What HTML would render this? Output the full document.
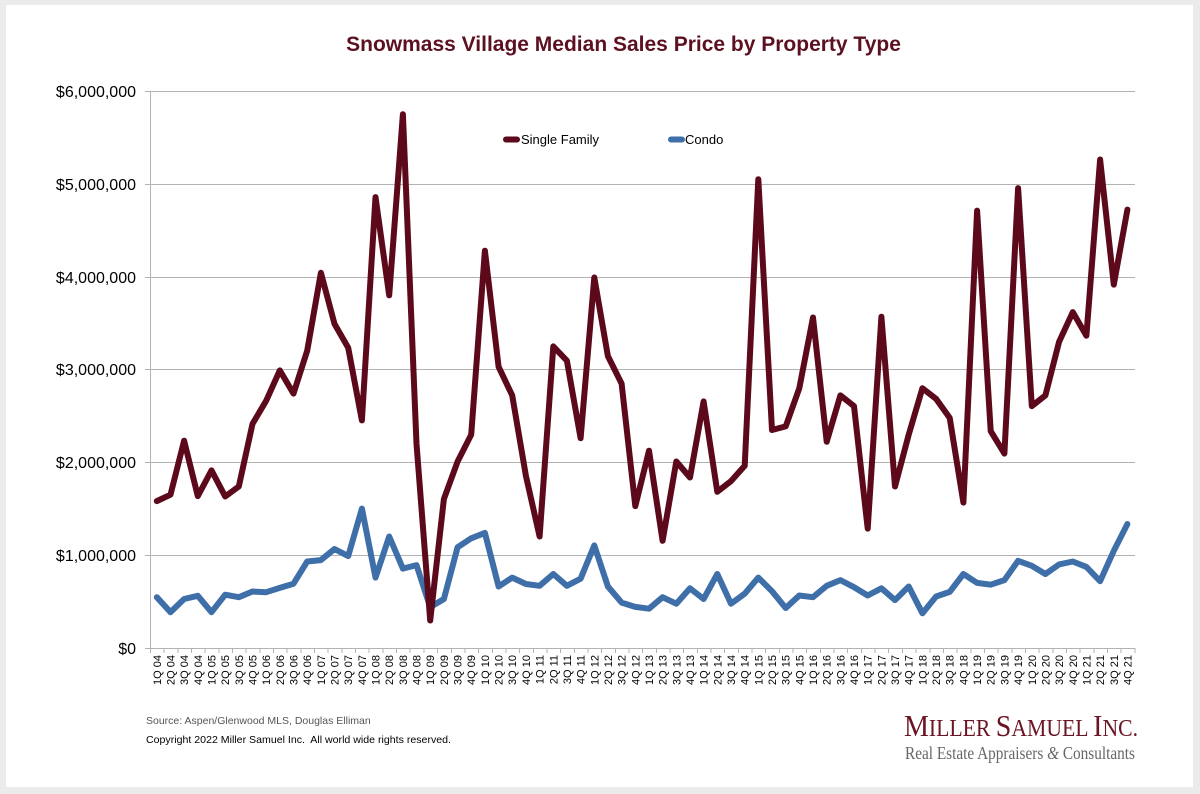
<!DOCTYPE html>
<html><head><meta charset="utf-8"><style>
html,body{margin:0;padding:0;background:#ebebeb;}
svg{display:block;}
text{font-family:"Liberation Sans",Arial,sans-serif;}
</style></head><body>
<svg width="1200" height="794" viewBox="0 0 1200 794" xmlns="http://www.w3.org/2000/svg">
<rect x="0" y="0" width="1200" height="794" fill="#ebebeb"/>
<rect x="6" y="5" width="1187" height="782" fill="#ffffff"/>
<text x="623.5" y="51" text-anchor="middle" font-size="21" font-weight="bold" fill="#5c1020">Snowmass Village Median Sales Price by Property Type</text>
<g stroke="#b3b3b3" stroke-width="1" shape-rendering="crispEdges">
<line x1="145" y1="91.5" x2="1135" y2="91.5"/>
<line x1="145" y1="184.5" x2="1135" y2="184.5"/>
<line x1="145" y1="277.5" x2="1135" y2="277.5"/>
<line x1="145" y1="369.5" x2="1135" y2="369.5"/>
<line x1="145" y1="462.5" x2="1135" y2="462.5"/>
<line x1="145" y1="555.5" x2="1135" y2="555.5"/>
<line x1="145" y1="648.5" x2="1135" y2="648.5"/>
<line x1="150.5" y1="91" x2="150.5" y2="653"/>
</g>
<g stroke="#b3b3b3" stroke-width="1" shape-rendering="crispEdges" id="xt">
<path d="M150.5 648v5M164.2 648v5M177.8 648v5M191.5 648v5M205.2 648v5M218.8 648v5M232.5 648v5M246.2 648v5M259.9 648v5M273.5 648v5M287.2 648v5M300.9 648v5M314.5 648v5M328.2 648v5M341.9 648v5M355.6 648v5M369.2 648v5M382.9 648v5M396.6 648v5M410.2 648v5M423.9 648v5M437.6 648v5M451.3 648v5M464.9 648v5M478.6 648v5M492.3 648v5M505.9 648v5M519.6 648v5M533.3 648v5M547.0 648v5M560.6 648v5M574.3 648v5M588.0 648v5M601.6 648v5M615.3 648v5M629.0 648v5M642.7 648v5M656.3 648v5M670.0 648v5M683.7 648v5M697.3 648v5M711.0 648v5M724.7 648v5M738.4 648v5M752.0 648v5M765.7 648v5M779.4 648v5M793.0 648v5M806.7 648v5M820.4 648v5M834.1 648v5M847.7 648v5M861.4 648v5M875.1 648v5M888.7 648v5M902.4 648v5M916.1 648v5M929.8 648v5M943.4 648v5M957.1 648v5M970.8 648v5M984.4 648v5M998.1 648v5M1011.8 648v5M1025.5 648v5M1039.1 648v5M1052.8 648v5M1066.5 648v5M1080.1 648v5M1093.8 648v5M1107.5 648v5M1121.2 648v5M1134.8 648v5"/>
</g>
<g font-size="16" fill="#000" text-anchor="end">
<text x="136" y="97">$6,000,000</text>
<text x="136" y="190">$5,000,000</text>
<text x="136" y="283">$4,000,000</text>
<text x="136" y="375">$3,000,000</text>
<text x="136" y="468">$2,000,000</text>
<text x="136" y="561">$1,000,000</text>
<text x="136" y="654">$0</text>
</g>
<g font-size="11" fill="#000" text-anchor="end">
<text transform="translate(160.8,655) rotate(-90)">1Q 04</text>
<text transform="translate(174.5,655) rotate(-90)">2Q 04</text>
<text transform="translate(188.1,655) rotate(-90)">3Q 04</text>
<text transform="translate(201.8,655) rotate(-90)">4Q 04</text>
<text transform="translate(215.5,655) rotate(-90)">1Q 05</text>
<text transform="translate(229.2,655) rotate(-90)">2Q 05</text>
<text transform="translate(242.8,655) rotate(-90)">3Q 05</text>
<text transform="translate(256.5,655) rotate(-90)">4Q 05</text>
<text transform="translate(270.2,655) rotate(-90)">1Q 06</text>
<text transform="translate(283.8,655) rotate(-90)">2Q 06</text>
<text transform="translate(297.5,655) rotate(-90)">3Q 06</text>
<text transform="translate(311.2,655) rotate(-90)">4Q 06</text>
<text transform="translate(324.9,655) rotate(-90)">1Q 07</text>
<text transform="translate(338.5,655) rotate(-90)">2Q 07</text>
<text transform="translate(352.2,655) rotate(-90)">3Q 07</text>
<text transform="translate(365.9,655) rotate(-90)">4Q 07</text>
<text transform="translate(379.5,655) rotate(-90)">1Q 08</text>
<text transform="translate(393.2,655) rotate(-90)">2Q 08</text>
<text transform="translate(406.9,655) rotate(-90)">3Q 08</text>
<text transform="translate(420.5,655) rotate(-90)">4Q 08</text>
<text transform="translate(434.2,655) rotate(-90)">1Q 09</text>
<text transform="translate(447.9,655) rotate(-90)">2Q 09</text>
<text transform="translate(461.6,655) rotate(-90)">3Q 09</text>
<text transform="translate(475.2,655) rotate(-90)">4Q 09</text>
<text transform="translate(488.9,655) rotate(-90)">1Q 10</text>
<text transform="translate(502.6,655) rotate(-90)">2Q 10</text>
<text transform="translate(516.2,655) rotate(-90)">3Q 10</text>
<text transform="translate(529.9,655) rotate(-90)">4Q 10</text>
<text transform="translate(543.6,655) rotate(-90)">1Q 11</text>
<text transform="translate(557.3,655) rotate(-90)">2Q 11</text>
<text transform="translate(570.9,655) rotate(-90)">3Q 11</text>
<text transform="translate(584.6,655) rotate(-90)">4Q 11</text>
<text transform="translate(598.3,655) rotate(-90)">1Q 12</text>
<text transform="translate(611.9,655) rotate(-90)">2Q 12</text>
<text transform="translate(625.6,655) rotate(-90)">3Q 12</text>
<text transform="translate(639.3,655) rotate(-90)">4Q 12</text>
<text transform="translate(653.0,655) rotate(-90)">1Q 13</text>
<text transform="translate(666.6,655) rotate(-90)">2Q 13</text>
<text transform="translate(680.3,655) rotate(-90)">3Q 13</text>
<text transform="translate(694.0,655) rotate(-90)">4Q 13</text>
<text transform="translate(707.6,655) rotate(-90)">1Q 14</text>
<text transform="translate(721.3,655) rotate(-90)">2Q 14</text>
<text transform="translate(735.0,655) rotate(-90)">3Q 14</text>
<text transform="translate(748.7,655) rotate(-90)">4Q 14</text>
<text transform="translate(762.3,655) rotate(-90)">1Q 15</text>
<text transform="translate(776.0,655) rotate(-90)">2Q 15</text>
<text transform="translate(789.7,655) rotate(-90)">3Q 15</text>
<text transform="translate(803.3,655) rotate(-90)">4Q 15</text>
<text transform="translate(817.0,655) rotate(-90)">1Q 16</text>
<text transform="translate(830.7,655) rotate(-90)">2Q 16</text>
<text transform="translate(844.4,655) rotate(-90)">3Q 16</text>
<text transform="translate(858.0,655) rotate(-90)">4Q 16</text>
<text transform="translate(871.7,655) rotate(-90)">1Q 17</text>
<text transform="translate(885.4,655) rotate(-90)">2Q 17</text>
<text transform="translate(899.0,655) rotate(-90)">3Q 17</text>
<text transform="translate(912.7,655) rotate(-90)">4Q 17</text>
<text transform="translate(926.4,655) rotate(-90)">1Q 18</text>
<text transform="translate(940.1,655) rotate(-90)">2Q 18</text>
<text transform="translate(953.7,655) rotate(-90)">3Q 18</text>
<text transform="translate(967.4,655) rotate(-90)">4Q 18</text>
<text transform="translate(981.1,655) rotate(-90)">1Q 19</text>
<text transform="translate(994.7,655) rotate(-90)">2Q 19</text>
<text transform="translate(1008.4,655) rotate(-90)">3Q 19</text>
<text transform="translate(1022.1,655) rotate(-90)">4Q 19</text>
<text transform="translate(1035.8,655) rotate(-90)">1Q 20</text>
<text transform="translate(1049.4,655) rotate(-90)">2Q 20</text>
<text transform="translate(1063.1,655) rotate(-90)">3Q 20</text>
<text transform="translate(1076.8,655) rotate(-90)">4Q 20</text>
<text transform="translate(1090.4,655) rotate(-90)">1Q 21</text>
<text transform="translate(1104.1,655) rotate(-90)">2Q 21</text>
<text transform="translate(1117.8,655) rotate(-90)">3Q 21</text>
<text transform="translate(1131.4,655) rotate(-90)">4Q 21</text>
</g>
<polyline fill="none" stroke="#3f6fa8" stroke-width="6" stroke-linejoin="round" stroke-linecap="round" points="156.8,597.2 170.5,612.2 184.1,599.0 197.8,595.8 211.5,612.2 225.2,594.7 238.8,597.2 252.5,591.5 266.2,592.2 279.8,587.9 293.5,583.7 307.2,561.5 320.9,560.1 334.5,549.0 348.2,556.1 361.9,508.6 375.5,577.6 389.2,536.5 402.9,568.6 416.5,565.1 430.2,607.2 443.9,599.0 457.6,547.2 471.2,538.3 484.9,532.9 498.6,586.5 512.2,577.6 525.9,584.0 539.6,585.8 553.3,574.0 566.9,585.8 580.6,578.7 594.3,545.4 607.9,586.5 621.6,602.6 635.3,606.9 649.0,608.7 662.6,597.2 676.3,603.7 690.0,588.3 703.6,599.0 717.3,574.0 731.0,603.7 744.7,593.7 758.3,577.6 772.0,591.2 785.7,608.0 799.3,595.5 813.0,597.2 826.7,585.8 840.4,580.1 854.0,587.2 867.7,595.5 881.4,588.3 895.0,600.1 908.7,586.5 922.4,613.3 936.1,596.5 949.7,591.9 963.4,574.0 977.1,582.9 990.7,584.7 1004.4,580.1 1018.1,560.8 1031.8,565.8 1045.4,574.0 1059.1,564.4 1072.8,561.5 1086.4,566.9 1100.1,581.2 1113.8,550.8 1127.4,524.0"/>
<polyline fill="none" stroke="#5c0a1b" stroke-width="6" stroke-linejoin="round" stroke-linecap="round" points="156.8,501.1 170.5,494.7 184.1,440.7 197.8,496.1 211.5,470.4 225.2,496.5 238.8,486.5 252.5,423.9 266.2,400.7 279.8,370.4 293.5,393.6 307.2,350.7 320.9,272.8 334.5,323.9 348.2,347.8 361.9,420.4 375.5,197.1 389.2,295.3 402.9,114.2 416.5,443.8 430.2,620.5 443.9,499.0 457.6,461.5 471.2,434.7 484.9,250.7 498.6,366.8 512.2,395.4 525.9,475.8 539.6,536.5 553.3,346.4 566.9,360.7 580.6,438.2 594.3,277.5 607.9,356.1 621.6,383.6 635.3,506.1 649.0,450.7 662.6,540.8 676.3,461.5 690.0,477.5 703.6,401.4 717.3,491.8 731.0,481.1 744.7,465.8 758.3,179.2 772.0,430.0 785.7,426.4 799.3,388.2 813.0,317.5 826.7,441.8 840.4,395.4 854.0,406.1 867.7,528.6 881.4,316.8 895.0,486.5 908.7,434.7 922.4,388.2 936.1,398.9 949.7,417.9 963.4,502.6 977.1,210.6 990.7,431.1 1004.4,453.6 1018.1,188.1 1031.8,406.1 1045.4,395.4 1059.1,341.8 1072.8,312.1 1086.4,335.7 1100.1,159.5 1113.8,284.6 1127.4,209.6"/>
<line x1="506" y1="139.5" x2="517" y2="139.5" stroke="#5c0a1b" stroke-width="6" stroke-linecap="round"/>
<text x="521" y="144" font-size="13" fill="#000">Single Family</text>
<line x1="671" y1="139.5" x2="682" y2="139.5" stroke="#3f6fa8" stroke-width="6" stroke-linecap="round"/>
<text x="685" y="144" font-size="13" fill="#000">Condo</text>
<text x="146" y="724" font-size="10.5" fill="#555">Source: Aspen/Glenwood MLS, Douglas Elliman</text>
<text x="146" y="743" font-size="10.5" fill="#000" xml:space="preserve" textLength="305" lengthAdjust="spacingAndGlyphs">Copyright 2022 Miller Samuel Inc.  All world wide rights reserved.</text>
<text x="904" y="736" font-family="Liberation Serif, serif" fill="#6a1424" textLength="234" lengthAdjust="spacingAndGlyphs" style="font-family:'Liberation Serif',serif"><tspan font-size="31">M</tspan><tspan font-size="24">ILLER </tspan><tspan font-size="31">S</tspan><tspan font-size="24">AMUEL </tspan><tspan font-size="31">I</tspan><tspan font-size="24">NC.</tspan></text>
<text x="905" y="759" font-size="18" fill="#666" textLength="230" lengthAdjust="spacingAndGlyphs" style="font-family:'Liberation Serif',serif">Real Estate Appraisers <tspan font-style="italic">&amp;</tspan> Consultants</text>
</svg>
</body></html>
